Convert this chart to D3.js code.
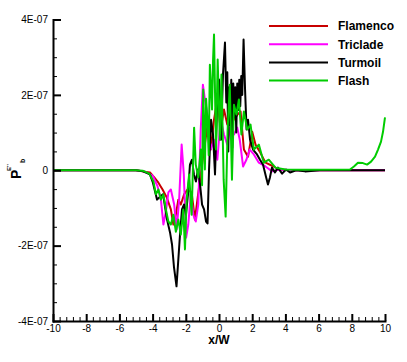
<!DOCTYPE html>
<html>
<head>
<meta charset="utf-8">
<script src="https://cdn.jsdelivr.net/npm/d3@7"></script>
<style>
body { margin: 0; background: #fff; }
text { font-family: "Liberation Sans", Arial, sans-serif; }
</style>
</head>
<body>
<script>
// values read in units of 1E-07
var flamencoX = [-10, -6, -5, -4.6, -4.16, -3.9, -3.65, -3.4, -3.15, -2.9, -2.75, -2.6, -2.45, -2.3, -2.1, -1.9, -1.65, -1.45, -1.3, -1.1, -0.9, -0.7, -0.5, -0.3, -0.1, 0.1, 0.3, 0.5, 0.7, 0.9, 1.1, 1.3, 1.5, 1.75, 2.0, 2.2, 2.45, 2.8, 3.2, 3.6, 4.2, 5, 10];
var flamencoY = [0, 0, 0, -0.03, -0.06, -0.19, -0.33, -0.51, -0.72, -1.04, -1.44, -1.18, -0.78, -0.91, -0.64, -0.51, -0.59, -1.31, -0.78, -0.11, 0.55, 1.16, 0.55, 1.34, 1.88, 1.08, 1.61, 1.21, 1.74, 1.34, 1.47, 1.56, 0.55, 0.36, 1.02, 0.68, 0.5, 0.2, 0.12, 0.02, 0, 0, 0];

var tricladeX = [-10, -6, -5, -4.5, -4.0, -3.7, -3.5, -3.35, -3.2, -3.05, -2.9, -2.7, -2.55, -2.4, -2.25, -2.12, -1.98, -1.85, -1.7, -1.55, -1.4, -1.25, -1.1, -0.97, -0.85, -0.7, -0.5, -0.3, -0.1, 0.1, 0.3, 0.5, 0.7, 0.9, 1.1, 1.25, 1.45, 1.65, 1.85, 2.1, 2.4, 2.8, 3.2, 3.6, 4.5, 10];
var tricladeY = [0, 0, 0, -0.03, -0.14, -0.43, -0.78, -1.44, -1.1, -0.59, -0.51, -0.91, -1.57, -0.78, 0.68, -0.11, -1.79, -1.44, -0.64, -1.18, -1.36, -0.91, 1.08, 2.27, 1.88, 1.48, 0.55, 0.81, 0.28, 1.34, 0.95, 0.68, 1.21, 0.95, 1.13, 0.81, 0.1, 0.28, 0.55, 0.42, 0.2, 0.1, -0.03, 0.02, 0, 0];

var turmoilX = [-10, -6, -5, -4.58, -4.16, -3.98, -3.73, -3.55, -3.37, -3.13, -2.95, -2.83, -2.71, -2.56, -2.47, -2.35, -2.23, -2.11, -1.99, -1.87, -1.75, -1.63, -1.51, -1.39, -1.27, -1.14, -1.02, -0.9, -0.78, -0.69, -0.6, -0.48, -0.36, -0.24, -0.12, 0, 0.12, 0.24, 0.36, 0.44, 0.5, 0.56, 0.62, 0.68, 0.74, 0.8, 0.86, 0.92, 0.98, 1.04, 1.1, 1.16, 1.22, 1.28, 1.34, 1.4, 1.48, 1.57, 1.66, 1.75, 1.87, 2.05, 2.29, 2.47, 2.65, 2.83, 2.95, 3.07, 3.19, 3.37, 3.55, 3.8, 4.04, 4.28, 4.64, 5.18, 6.08, 10];
var turmoilY = [0, 0, 0, -0.03, -0.11, -0.33, -0.78, -0.7, -0.64, -1.31, -1.65, -1.97, -2.58, -3.08, -2.5, -1.71, -1.04, -0.91, -1.18, -0.64, 0.15, 0.28, -0.11, -0.3, 0.02, -0.38, -0.91, -1.04, -1.36, -1.41, 0.02, 1.34, 0.95, -0.11, 1.61, 2.41, 0.81, 2.54, 3.39, 1.8, 2.6, 0.5, 2.2, 1.2, 2.4, 0.6, 2.3, 1.4, 2.2, 1.0, 2.3, 1.6, 2.4, 1.7, 2.5, 2.0, 3.47, 2.14, 1.08, 1.34, 0.81, 0.55, 0.42, 0.28, 0.15, -0.17, -0.38, -0.19, 0.07, -0.06, 0.07, -0.09, 0.02, -0.06, 0, -0.03, 0, 0];

var flashX = [-10, -6, -5, -4.6, -4.2, -3.95, -3.8, -3.65, -3.5, -3.35, -3.2, -3.05, -2.9, -2.75, -2.6, -2.45, -2.3, -2.15, -2.05, -1.95, -1.8, -1.65, -1.5, -1.4, -1.25, -1.1, -1.02, -0.95, -0.85, -0.78, -0.7, -0.62, -0.55, -0.42, -0.36, -0.3, -0.18, -0.08, 0.05, 0.15, 0.28, 0.4, 0.52, 0.65, 0.78, 0.9, 1.05, 1.2, 1.35, 1.5, 1.7, 1.9, 2.1, 2.4, 2.7, 3.0, 3.4, 4.0, 5, 7.89, 8.13, 8.37, 8.67, 8.92, 9.16, 9.4, 9.58, 9.76, 9.88, 10];
var flashY = [0, 0, 0, -0.01, -0.09, -0.3, -0.64, -0.51, -0.78, -0.64, -1.04, -1.36, -1.44, -1.18, -1.63, -1.31, -1.71, -1.04, -2.1, -0.78, -0.11, -1.18, 1.13, 0.15, -0.19, 0.55, -0.4, 2.14, 0.02, 1.9, 1.34, 0.4, 2.8, 1.61, 2.9, 3.6, 0.55, 2.94, 0.81, 2.54, -0.25, -1.23, 1.08, 2.27, -0.25, 1.74, 1.48, 1.88, 0.95, 1.56, 1.08, 1.21, 0.55, 0.68, 0.2, 0.28, 0.07, 0.02, 0.01, 0.02, 0.1, 0.2, 0.19, 0.15, 0.23, 0.36, 0.55, 0.76, 1.02, 1.4];

var seriesNames = ["Flamenco", "Triclade", "Turmoil", "Flash"];
var seriesColors = ["#c80000", "#ff00ff", "#000000", "#00cc00"];

var xTicks = [-10, -8, -6, -4, -2, 0, 2, 4, 6, 8, 10];
var yTicks = [-4, -2, 0, 2, 4];
var yTickLabels = ["-4E-07", "-2E-07", "0", "2E-07", "4E-07"];

var chart = (function() {
    var w = 407, h = 362;

    var svg = d3.select("body")
                .append("svg")
                .attr("width", w)
                .attr("height", h);

    var xScale = d3.scaleLinear()
                    .domain([-10, 10])
                    .range([53, 385]);

    var yScale = d3.scaleLinear()
                    .domain([-4, 4])
                    .range([321, 19.5]);

    var allX = [flamencoX, tricladeX, turmoilX, flashX];
    var allY = [flamencoY, tricladeY, turmoilY, flashY];

    var line = d3.line()
                .x(d => xScale(d[0]))
                .y(d => yScale(d[1]));

    var lineGroup = svg.append("g");

    for(var i = 0; i < allX.length; i++) {
        var pts = allX[i].map((x, j) => [x, allY[i][j]]);
        lineGroup.append("path")
                .datum(pts)
                .attr("d", line)
                .attr("fill", "none")
                .attr("stroke", seriesColors[i])
                .attr("stroke-width", 2)
                .attr("stroke-linejoin", "round");
    }

    // minor ticks
    var xMinor = d3.range(-10, 10.01, 0.4).filter(v => Math.abs(v / 2 - Math.round(v / 2)) > 0.01);
    var yMinor = d3.range(-4, 4.01, 0.5).filter(v => Math.abs(v / 2 - Math.round(v / 2)) > 0.01);

    svg.append("g")
        .attr("transform", "translate(0,321)")
        .call(d3.axisBottom(xScale).tickValues(xMinor).tickSize(-4).tickFormat(""))
        .call(g => g.select(".domain").remove())
        .selectAll("line").attr("stroke-width", 1);

    svg.append("g")
        .attr("transform", "translate(53,0)")
        .call(d3.axisLeft(yScale).tickValues(yMinor).tickSize(-4).tickFormat(""))
        .call(g => g.select(".domain").remove())
        .selectAll("line").attr("stroke-width", 1);

    var xAxis = d3.axisBottom()
                .scale(xScale)
                .tickValues(xTicks)
                .tickSizeInner(-7)
                .tickSizeOuter(0)
                .tickPadding(4)
                .tickFormat(d => d);

    var yAxis = d3.axisLeft()
                .scale(yScale)
                .tickValues(yTicks)
                .tickSizeInner(-8)
                .tickSizeOuter(0)
                .tickPadding(5)
                .tickFormat((d, i) => yTickLabels[i]);

    var gx = svg.append("g")
        .attr("transform", "translate(0,321)")
        .call(xAxis);
    gx.selectAll("line").attr("stroke-width", 2);
    gx.select(".domain").attr("stroke-width", 2);
    gx.selectAll("text").attr("font-size", 10).attr("fill", "#000");

    var gy = svg.append("g")
        .attr("transform", "translate(53,0)")
        .call(yAxis);
    gy.selectAll("line").attr("stroke-width", 2);
    gy.select(".domain").attr("stroke-width", 2);
    gy.selectAll("text").attr("font-size", 10).attr("fill", "#000");

    svg.selectAll(".domain").attr("stroke-linecap", "square");

    // axis titles
    svg.append("text")
        .attr("x", 219)
        .attr("y", 344)
        .attr("text-anchor", "middle")
        .attr("font-size", 12)
        .attr("font-weight", "bold")
        .text("x/W");

    var yTitle = svg.append("g")
        .attr("transform", "translate(21,179) rotate(-90)");
    yTitle.append("text")
        .attr("x", 0)
        .attr("y", 0)
        .attr("font-size", 14)
        .attr("font-weight", "bold")
        .text("P");
    yTitle.append("text")
        .attr("x", 8)
        .attr("y", -10)
        .attr("font-size", 6)
        .attr("font-weight", "bold")
        .text("E''");
    yTitle.append("text")
        .attr("x", 16)
        .attr("y", 4)
        .attr("font-size", 7)
        .attr("font-weight", "bold")
        .text("b");

    // legend
    var legend = svg.append("g");
    seriesNames.forEach(function(name, i) {
        var ly = 26 + i * 18.2;
        legend.append("line")
            .attr("x1", 269)
            .attr("x2", 328)
            .attr("y1", ly)
            .attr("y2", ly)
            .attr("stroke", seriesColors[i])
            .attr("stroke-width", 2);
        legend.append("text")
            .attr("x", 338)
            .attr("y", ly)
            .attr("dy", "0.36em")
            .attr("font-size", 12)
            .attr("font-weight", "bold")
            .text(name);
    });
})();
</script>
</body>
</html>
